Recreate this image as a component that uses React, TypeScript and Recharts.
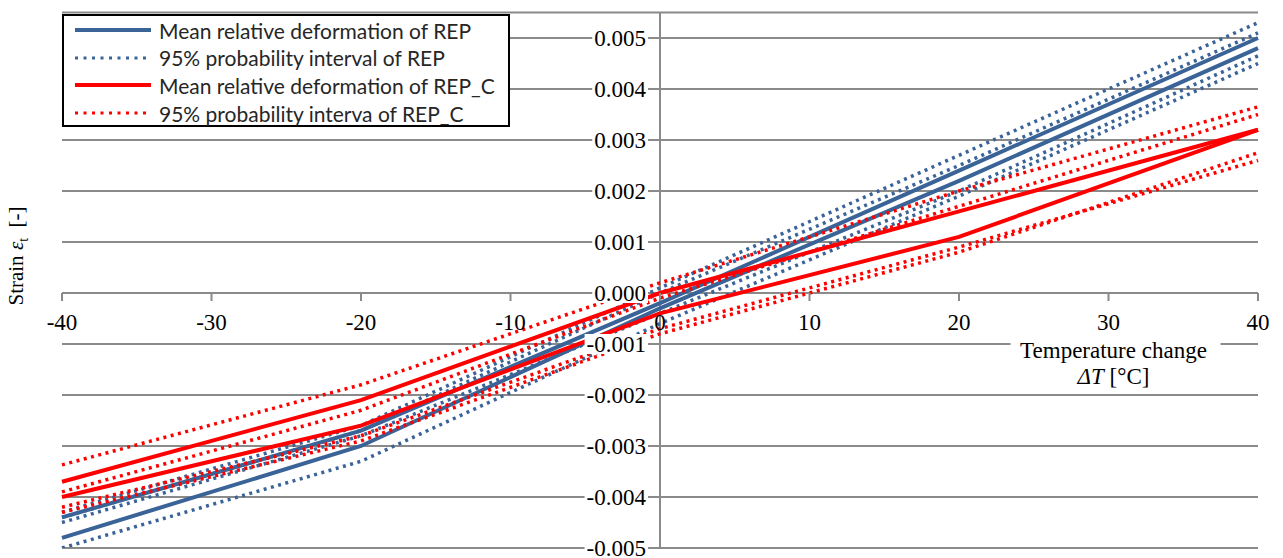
import { LineChart, Line, XAxis, YAxis, CartesianGrid, ReferenceLine, ReferenceDot } from 'recharts';

// temperature steps of the cycles [°C]
const temps = [-40, -20, 0, 20, 40];

// REP – mean relative deformation (two cycles)
const repMean1 = [-0.0048, -0.003, -0.0003, 0.0022, 0.0048];
const repMean2 = [-0.0044, -0.0027, -0.0002, 0.0024, 0.005];
// REP – 95% probability interval
const repHigh1 = [-0.0043, -0.0026, 0.0001, 0.0027, 0.0053];
const repHigh2 = [-0.0044, -0.0027, 0.0, 0.0025, 0.0051];
const repLow1 = [-0.005, -0.0033, -0.0006, 0.0019, 0.0045];
const repLow2 = [-0.0045, -0.0028, -0.0004, 0.002, 0.00465];

// REP_C – mean relative deformation
const repcMean1 = [-0.0037, -0.0021, 0.0, 0.0016, 0.0032];
const repcMean2 = [-0.004, -0.0026, -0.0004, 0.0011, 0.0032];
// REP_C – 95% probability interval
const repcHigh1 = [-0.00337, -0.0018, 0.0002, 0.002, 0.00365];
const repcHigh2 = [-0.0039, -0.0023, -0.0001, 0.0017, 0.0035];
const repcLow1 = [-0.0043, -0.0029, -0.0008, 0.0008, 0.00275];
const repcLow2 = [-0.0042, -0.0028, -0.0007, 0.0009, 0.0026];

const xTicks = [-40, -30, -20, -10, 0, 10, 20, 30, 40];
const yTicks = [-0.005, -0.004, -0.003, -0.002, -0.001, 0, 0.001, 0.002, 0.003, 0.004, 0.005];
const yTickLabels = ['-0.005', '-0.004', '-0.003', '-0.002', '-0.001', '0.000', '0.001', '0.002', '0.003', '0.004', '0.005'];

const legendLabels = [
  'Mean relative deformation of REP',
  '95% probability interval of REP',
  'Mean relative deformation of REP_C',
  '95% probability interva of REP_C',
];

const BLUE = '#3a6398';
const RED = '#ff0000';
const GRID = '#8a8a8a';
const SERIF = 'Liberation Serif, Times New Roman, serif';
const DOTS = '3 4.5';

const series = [
  { key: 'repHigh1', values: repHigh1, color: BLUE, dotted: true },
  { key: 'repHigh2', values: repHigh2, color: BLUE, dotted: true },
  { key: 'repLow1', values: repLow1, color: BLUE, dotted: true },
  { key: 'repLow2', values: repLow2, color: BLUE, dotted: true },
  { key: 'repMean1', values: repMean1, color: BLUE, dotted: false },
  { key: 'repMean2', values: repMean2, color: BLUE, dotted: false },
  { key: 'repcHigh1', values: repcHigh1, color: RED, dotted: true },
  { key: 'repcHigh2', values: repcHigh2, color: RED, dotted: true },
  { key: 'repcLow1', values: repcLow1, color: RED, dotted: true },
  { key: 'repcLow2', values: repcLow2, color: RED, dotted: true },
  { key: 'repcMean1', values: repcMean1, color: RED, dotted: false },
  { key: 'repcMean2', values: repcMean2, color: RED, dotted: false },
];

const data = temps.map((t, i) => {
  const row: Record<string, number> = { t };
  series.forEach((s) => {
    row[s.key] = s.values[i];
  });
  return row;
});

const TICK_FS = 23;
const serifStyle = { fontFamily: SERIF, fontSize: TICK_FS } as const;

function labelWidth(s: string) {
  let w = 0;
  for (const c of s) w += c === '.' ? 0.25 : c === '-' ? 0.333 : 0.5;
  return w * TICK_FS;
}

function YTick(props: any) {
  const { cx, cy, text } = props;
  const w = labelWidth(text);
  const right = cx - 14;
  return (
    <g>
      <rect x={right - w - 2} y={cy - 10} width={w + 4} height={20} fill="#fff" />
      <text x={right} y={cy} textAnchor="end" dominantBaseline="central" style={serifStyle} fill="#000">
        {text}
      </text>
    </g>
  );
}

function XTick(props: any) {
  const { cx, cy, text } = props;
  return (
    <g>
      <line x1={cx} y1={cy} x2={cx} y2={cy + 8} stroke={GRID} strokeWidth={2} />
      <text x={cx} y={cy + 29} textAnchor="middle" dominantBaseline="central" style={serifStyle} fill="#000">
        {text}
      </text>
    </g>
  );
}

function XTitle(props: any) {
  const { cx, cy } = props;
  return (
    <g>
      <rect x={cx - 98} y={cy - 9} width={210} height={50} fill="#fff" />
      <text x={cx + 5} y={cy + 6} textAnchor="middle" dominantBaseline="central" style={serifStyle} fill="#000">
        Temperature change
      </text>
      <text x={cx + 5} y={cy + 32} textAnchor="middle" dominantBaseline="central" style={serifStyle} fill="#000">
        <tspan fontStyle="italic">ΔT</tspan> [°C]
      </text>
    </g>
  );
}

function LegendBox() {
  const items = [
    { color: BLUE, dotted: false },
    { color: BLUE, dotted: true },
    { color: RED, dotted: false },
    { color: RED, dotted: true },
  ];
  return (
    <div
      style={{
        position: 'absolute',
        left: 62,
        top: 14,
        width: 444,
        height: 109,
        border: '2px solid #000',
        background: '#fff',
        boxSizing: 'content-box',
      }}
    >
      {items.map((it, i) => (
        <div key={i} style={{ position: 'absolute', left: 10, top: 1 + i * 27.7, height: 26, display: 'flex', alignItems: 'center' }}>
          <svg width={80} height={10} style={{ display: 'block' }}>
            <line
              x1={1}
              y1={5}
              x2={77}
              y2={5}
              stroke={it.color}
              strokeWidth={it.dotted ? 3 : 4}
              strokeDasharray={it.dotted ? '3 5.5' : undefined}
              strokeLinecap="butt"
            />
          </svg>
          <span style={{ marginLeft: 5, fontFamily: 'Lato, sans-serif', fontSize: 21, color: '#262626', whiteSpace: 'nowrap' }}>
            {legendLabels[i]}
          </span>
        </div>
      ))}
    </div>
  );
}

export default function App() {
  return (
    <div style={{ position: 'absolute', left: 0, top: 0, width: 1283, height: 558, background: '#fff' }}>
      <LineChart width={1283} height={558} data={data} margin={{ top: 12.5, right: 25, bottom: 10, left: 62 }} style={{ overflow: 'visible' }}>
        <XAxis hide type="number" dataKey="t" domain={[-40, 40]} ticks={xTicks} />
        <YAxis hide type="number" domain={[-0.005, 0.0055]} ticks={yTicks} allowDataOverflow />
        <CartesianGrid vertical={false} stroke={GRID} strokeWidth={2} />
        <ReferenceLine x={0} stroke={GRID} strokeWidth={2} />
        <ReferenceLine y={0} stroke={GRID} strokeWidth={2} />
        {series.map((s) => (
          <Line
            key={s.key}
            dataKey={s.key}
            stroke={s.color}
            strokeWidth={s.dotted ? 3.5 : 4}
            strokeDasharray={s.dotted ? DOTS : undefined}
            dot={false}
            activeDot={false}
            isAnimationActive={false}
          />
        ))}
        {yTicks.map((v, i) => (
          <ReferenceDot key={'y' + i} x={0} y={v} r={0} shape={(p: any) => <YTick cx={p.cx} cy={p.cy} text={yTickLabels[i]} />} />
        ))}
        {xTicks.map((v) => (
          <ReferenceDot key={'x' + v} x={v} y={0} r={0} shape={(p: any) => <XTick cx={p.cx} cy={p.cy} text={String(v)} />} />
        ))}
        <ReferenceDot x={30} y={-0.001} r={0} shape={(p: any) => <XTitle cx={p.cx} cy={p.cy} />} />
      </LineChart>
      <div
        style={{
          position: 'absolute',
          left: 18,
          top: 256,
          transform: 'translate(-50%, -50%) rotate(-90deg)',
          fontFamily: SERIF,
          fontSize: 21,
          whiteSpace: 'nowrap',
          color: '#000',
        }}
      >
        Strain <i>ε</i>
        <sub style={{ fontSize: 14 }}>t</sub>&nbsp;&nbsp;[-]
      </div>
      <LegendBox />
    </div>
  );
}
